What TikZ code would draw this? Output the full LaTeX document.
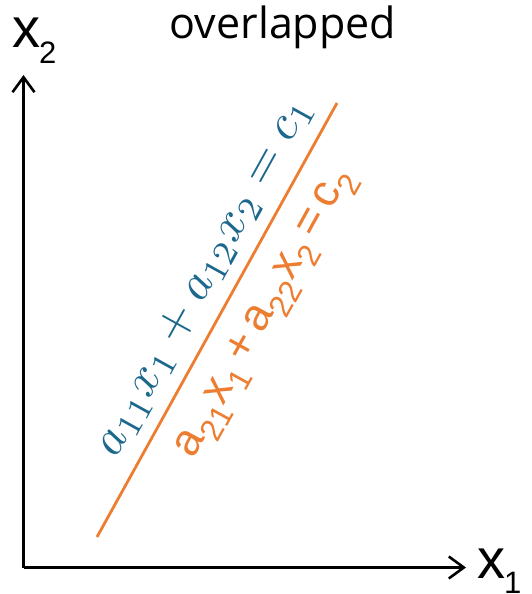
\documentclass[tikz,border=0pt]{standalone}
\usepackage{fontspec}
\setmainfont{Liberation Sans}
\newfontfamily\titlefont{Open Sans}
\usetikzlibrary{arrows.meta}
\definecolor{eqblue}{RGB}{28,104,140}
\definecolor{eqorange}{RGB}{237,125,49}
\tikzset{
  axis/.style={line width=2.6pt, -{Straight Barb[length=15pt,width=22pt,line width=2.6pt]}},
  axlabel/.style={inner sep=0pt, font=\fontsize{56}{62}\selectfont},
}
\newcommand{\axsub}[1]{\kern-1pt\raisebox{-0.28em}{\fontsize{31}{34}\selectfont #1}}
\begin{document}
\begin{tikzpicture}[x=1pt,y=-1pt]
\useasboundingbox (0,0) rectangle (531,594);
\coordinate (O) at (23.5,567.5);
\coordinate (ytip) at (23.5,75);
\coordinate (xtip) at (466,567.5);
\draw[axis] (O) -- (ytip);
\draw[axis] (O) -- (xtip);
\node[axlabel, anchor=base west] (xtwo) at (12,48) {x\axsub{2}};
\node[axlabel, anchor=base west] (xone) at (477,578) {x\axsub{1}};
\node[anchor=base, inner sep=0pt, font=\titlefont\fontsize{43}{48}\selectfont] (title) at (283,39) {overlapped};
\coordinate (la) at (97,537);
\coordinate (lb) at (337,103);
\draw[eqorange, line width=2.8pt] (la) -- (lb);
\node[eqblue, rotate=61.05, inner sep=0pt] (eqone) at (205,277)
  {\scalebox{4.9}{$a_{11}x_1+a_{12}x_2=c_1$}};
\node[eqorange, rotate=61.05, inner sep=0pt, font=\fontsize{45}{50}\selectfont] (eqtwo) at (267,314)
  {a\textsubscript{21}x\textsubscript{1}\,+\,a\textsubscript{22}x\textsubscript{2}\,=\,c\textsubscript{2}};
\end{tikzpicture}
\end{document}
